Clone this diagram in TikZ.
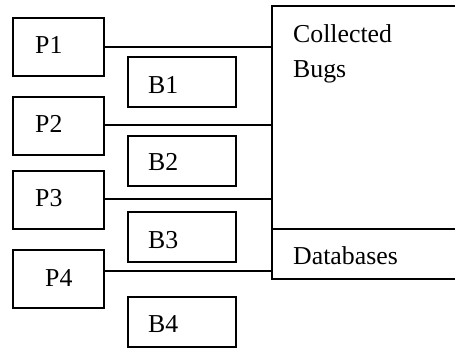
\documentclass[tikz,border=0pt]{standalone}
\usepackage{fontspec}
\setmainfont{Liberation Serif}
\begin{document}
\begin{tikzpicture}[x=1pt,y=-1pt,
  box/.style={draw=black,line width=1.6pt,inner sep=0pt,outer sep=0pt,anchor=north west,fill=none},
  pbox/.style={box,minimum width=91pt,minimum height=58pt},
  bbox/.style={box,minimum width=108pt,minimum height=50pt},
  lbl/.style={anchor=base west,inner sep=0pt,font=\fontsize{25.8}{30}\selectfont},
  conn/.style={draw=black,line width=1.6pt}]
\useasboundingbox (0,0) rectangle (455,349);
% big box
\node[box,minimum width=200pt,minimum height=273pt] (cb) at (272,6) {};
\coordinate (dv) at (272,229);
\draw[conn] (dv) -- (dv -| cb.east);
\node[lbl] (t1) at (293,42) {Collected};
\node[lbl] (t2) at (293,77) {Bugs};
\node[lbl] (t3) at (293,264) {Databases};
% P boxes
\node[pbox] (p1) at (13,18) {};
\node[pbox] (p2) at (13,97) {};
\node[pbox] (p3) at (13,171) {};
\node[pbox] (p4) at (13,250) {};
\node[lbl] (lp1) at (35,53) {P1};
\node[lbl] (lp2) at (35,132) {P2};
\node[lbl] (lp3) at (35,206) {P3};
\node[lbl] (lp4) at (45,286) {P4};
% B boxes
\node[bbox] (b1) at (128,57) {};
\node[bbox] (b2) at (128,136) {};
\node[bbox] (b3) at (128,212) {};
\node[bbox] (b4) at (128,297) {};
\node[lbl] (lb1) at (148,93) {B1};
\node[lbl] (lb2) at (148,170) {B2};
\node[lbl] (lb3) at (148,248) {B3};
\node[lbl] (lb4) at (148,332) {B4};
% connectors
\coordinate (c1) at (104,47);
\coordinate (c2) at (104,125);
\coordinate (c3) at (104,199);
\coordinate (c4) at (104,271);
\draw[conn] (c1) -- (c1 -| cb.west);
\draw[conn] (c2) -- (c2 -| cb.west);
\draw[conn] (c3) -- (c3 -| cb.west);
\draw[conn] (c4) -- (c4 -| cb.west);
\end{tikzpicture}
\end{document}
